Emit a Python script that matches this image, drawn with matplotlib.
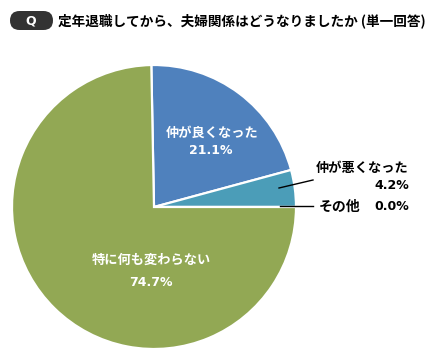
import matplotlib
matplotlib.use("Agg")
import matplotlib.pyplot as plt
from matplotlib.patches import FancyBboxPatch

plt.rcParams['font.family'] = ['Noto Sans CJK JP', 'DejaVu Sans']

title = "定年退職してから、夫婦関係はどうなりましたか (単一回答)"
categories = ["仲が良くなった", "仲が悪くなった", "その他", "特に何も変わらない"]
values = [21.1, 4.2, 0.0, 74.7]
colors = ["#4F81BD", "#4B9DB8", "#C0504D", "#92A854"]

W, H = 435, 350
fig = plt.figure(figsize=(W / 100, H / 100), dpi=100)
ax = fig.add_axes([0, 0, 1, 1])

cx, cy, r = 154, H - 207, 142
start = (values[0] + values[1] + values[2]) * 3.6
ax.pie(values, colors=colors, center=(cx, cy), radius=r, startangle=start,
       counterclock=False, wedgeprops=dict(edgecolor='white', linewidth=1.6),
       frame=True)
ax.set_xlim(0, W)
ax.set_ylim(0, H)
ax.set_aspect('equal')
ax.axis('off')

CJK = dict(family=['Noto Sans CJK JP', 'DejaVu Sans'], fontsize=9.5, fontweight='bold')
NUM = dict(family=['DejaVu Sans'], fontsize=9, fontweight='bold')

def T(x, y, s, style, **kw):
    ax.text(x, H - y, s, **style, **kw)

# inside labels
T(212, 133, categories[0], CJK, color='white', ha='center', va='center')
T(211, 151, f"{values[0]:.1f}%", NUM, color='white', ha='center', va='center')
T(151, 260, categories[3], CJK, color='white', ha='center', va='center')
T(151, 283, f"{values[3]:.1f}%", NUM, color='white', ha='center', va='center')

# outside labels
T(409, 168, categories[1], CJK, color='black', ha='right', va='center')
T(409, 186, f"{values[1]:.1f}%", NUM, color='black', ha='right', va='center')
T(319, 207, categories[2], dict(CJK, fontsize=10), color='black', ha='left', va='center')
T(409, 207, f"{values[2]:.1f}%", NUM, color='black', ha='right', va='center')
ax.plot([279, 313], [H - 188, H - 180], color='black', lw=1)
ax.plot([280, 313], [H - 206, H - 206], color='black', lw=1)

# title pill
pill = FancyBboxPatch((10, H - 30), 43, 19, boxstyle="round,pad=0,rounding_size=9.5",
                      facecolor='#333333', edgecolor='none')
ax.add_patch(pill)
T(31, 21, "Q", NUM, color='white', ha='center', va='center')
T(58, 21, title, dict(CJK, fontsize=9.8), color='black', ha='left', va='center')

fig.savefig("out.png", dpi=100)
